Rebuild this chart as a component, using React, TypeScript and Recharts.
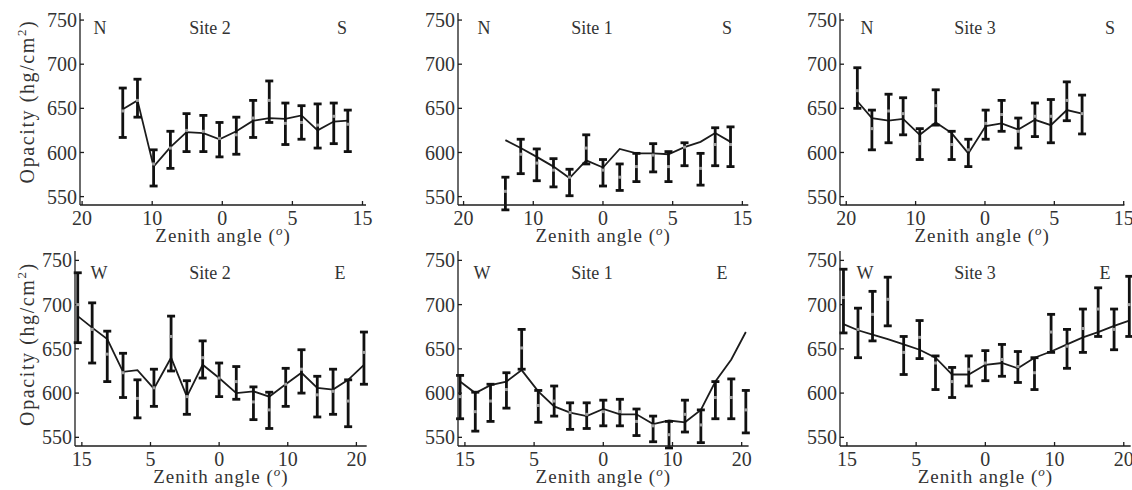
import React from "react";
import { ComposedChart, ErrorBar, Line, XAxis, YAxis } from "recharts";

const yTicks = [550, 600, 650, 700, 750];
const xTicks = [-20, -10, 0, 10, 20];
const nsTickLabels = ["20", "10", "0", "5", "15"];
const weTickLabels = ["15", "5", "0", "10", "20"];

// top row: north-south scans
const ns2Angle = [-14.2, -12.1, -9.8, -7.4, -5.1, -2.7, -0.4, 2.0, 4.4, 6.7, 9.0, 11.3, 13.6, 15.9, 17.9];
const ns2Obs = [647, 659, 587, 605, 625, 624, 616, 620, 639, 659, 633, 634, 631, 641, 632];
const ns2Low = [617, 640, 562, 582, 601, 601, 595, 598, 617, 634, 609, 615, 605, 610, 601];
const ns2High = [673, 683, 603, 624, 644, 642, 634, 640, 659, 681, 656, 653, 655, 656, 648];
const ns2Model = [649, 659, 584, 606, 623, 622, 615, 624, 636, 639, 638, 642, 625, 635, 636];

const ns1Angle = [-14.0, -11.8, -9.5, -7.1, -4.8, -2.4, 0, 2.4, 4.8, 7.2, 9.4, 11.7, 14.0, 16.1, 18.3];
const ns1Obs = [556, 598, 588, 580, 572, 605, 580, 572, 584, 597, 584, 606, 582, 609, 609];
const ns1Low = [535, 576, 568, 561, 551, 587, 562, 557, 567, 578, 567, 585, 563, 585, 584];
const ns1High = [572, 615, 604, 593, 581, 620, 592, 587, 599, 610, 601, 611, 599, 628, 629];
const ns1Model = [614, 605, 595, 584, 571, 591, 583, 604, 599, 599, 598, 606, 612, 622, 612];

const ns3Angle = [-18.4, -16.3, -13.9, -11.8, -9.4, -7.1, -4.8, -2.4, 0.1, 2.4, 4.8, 7.2, 9.5, 11.8, 14.0];
const ns3Obs = [670, 627, 647, 644, 610, 653, 609, 603, 633, 643, 624, 641, 641, 659, 644];
const ns3Low = [650, 603, 611, 620, 592, 631, 592, 584, 615, 624, 605, 618, 611, 636, 621];
const ns3High = [696, 648, 666, 662, 627, 671, 624, 615, 648, 659, 639, 656, 660, 680, 665];
const ns3Model = [658, 639, 636, 638, 620, 634, 622, 599, 630, 633, 626, 637, 631, 648, 644];

// bottom row: west-east scans
const we2Angle = [-20.6, -18.5, -16.3, -14.0, -11.9, -9.5, -7.0, -4.7, -2.4, 0, 2.5, 5.0, 7.3, 9.7, 12.0, 14.3, 16.6, 18.8, 21.1];
const we2Obs = [700, 672, 644, 623, 594, 606, 664, 596, 640, 617, 613, 590, 581, 610, 627, 598, 602, 591, 646];
const we2Low = [657, 634, 613, 595, 572, 585, 625, 576, 617, 596, 593, 570, 560, 585, 600, 573, 576, 562, 610];
const we2High = [736, 702, 670, 645, 615, 627, 687, 614, 659, 634, 630, 607, 601, 628, 649, 619, 627, 615, 669];
const we2Model = [687, 674, 661, 624, 626, 605, 640, 596, 632, 617, 600, 602, 596, 610, 623, 606, 604, 615, 632];

const we1Angle = [-20.7, -18.5, -16.3, -14.0, -11.8, -9.4, -7.1, -4.8, -2.4, 0, 2.4, 4.8, 7.2, 9.5, 11.8, 14.1, 16.2, 18.5, 20.6];
const we1Obs = [596, 579, 591, 604, 651, 586, 591, 578, 576, 579, 579, 568, 563, 553, 576, 564, 595, 595, 581];
const we1Low = [571, 557, 568, 583, 627, 567, 574, 559, 560, 563, 563, 552, 545, 538, 556, 544, 571, 571, 555];
const we1High = [620, 601, 610, 623, 672, 603, 608, 589, 589, 592, 593, 582, 574, 568, 592, 581, 613, 616, 603];
const we1Model = [613, 600, 609, 613, 626, 602, 585, 578, 574, 582, 576, 576, 565, 569, 567, 581, 613, 638, 669];

const we3Angle = [-20.5, -18.4, -16.3, -14.1, -11.8, -9.5, -7.2, -4.8, -2.4, 0, 2.4, 4.7, 7.1, 9.5, 11.8, 14.1, 16.3, 18.6, 20.8];
const we3Obs = [708, 672, 689, 706, 646, 663, 634, 613, 627, 634, 638, 630, 623, 669, 653, 673, 695, 672, 700];
const we3Low = [668, 640, 659, 676, 621, 639, 604, 595, 608, 614, 619, 612, 604, 646, 628, 646, 664, 649, 664];
const we3High = [740, 696, 715, 731, 664, 682, 642, 629, 642, 648, 655, 647, 640, 689, 672, 695, 719, 695, 732];
const we3Model = [678, 671, 666, 661, 655, 649, 640, 621, 621, 632, 634, 628, 640, 647, 655, 663, 669, 676, 682];

const FONT = '"Liberation Serif", "Times New Roman", serif';
const INK = "#1c1c1c";
const TICK_SIZE = 20;

function rows(x: number[], obs: number[], lo: number[], hi: number[], model: number[]) {
  return x.map((v, i) => ({
    x: v,
    obs: obs[i],
    bar: [obs[i] - lo[i], hi[i] - obs[i]],
    model: model[i],
  }));
}

const Marker = (p: any) => {
  if (p.cx == null || p.cy == null) return <g key={p.index} />;
  return <rect key={p.index} x={p.cx - 1.5} y={p.cy - 1.5} width={3} height={3} fill="#a0a0a0" />;
};

type PanelProps = {
  data: any[];
  left: number;
  top: number;
  w: number;
  h: number;
  xDomain: [number, number];
  yDomain: [number, number];
  tickLabels: string[];
  dirs: [string, string];
  site: string;
  ann: { lx: number; sx: number; rx: number; cy: number };
  titleDy: number;
  yTitle?: { x: number; y: number };
};

function Panel({ data, left, top, w, h, xDomain, yDomain, tickLabels, dirs, site, ann, titleDy, yTitle }: PanelProps) {
  const cw = w + 70;
  const ch = h + 54;
  const txt = { fill: "#333", fontFamily: FONT };
  return (
    <div style={{ position: "absolute", left: left - 60, top: top - 10, width: cw, height: ch }}>
      <ComposedChart width={cw} height={ch} data={data} margin={{ top: 10, right: 10, bottom: 0, left: 0 }}>
        <XAxis
          xAxisId="b"
          dataKey="x"
          type="number"
          domain={xDomain}
          ticks={xTicks}
          interval={0}
          allowDataOverflow
          height={44}
          tickSize={-4}
          tickMargin={10}
          fontSize={TICK_SIZE}
          fontFamily={FONT}
          tickFormatter={(v) => tickLabels[xTicks.indexOf(v)]}
          axisLine={{ stroke: INK, strokeWidth: 1.3 }}
          tickLine={{ stroke: INK, strokeWidth: 1.3 }}
          tick={{ ...txt, fontSize: TICK_SIZE }}
        />
        <XAxis
          xAxisId="t"
          orientation="top"
          type="number"
          domain={xDomain}
          ticks={xTicks}
          interval={0}
          allowDataOverflow
          height={0}
          tickSize={-4}
          tick={false}
          axisLine={{ stroke: INK, strokeWidth: 1.3 }}
          tickLine={{ stroke: INK, strokeWidth: 1.3 }}
        />
        <YAxis
          yAxisId="l"
          type="number"
          domain={yDomain}
          ticks={yTicks}
          interval={0}
          allowDataOverflow
          width={60}
          tickSize={-4}
          tickMargin={7}
          fontSize={TICK_SIZE}
          fontFamily={FONT}
          axisLine={{ stroke: INK, strokeWidth: 1.3 }}
          tickLine={{ stroke: INK, strokeWidth: 1.3 }}
          tick={{ ...txt, fontSize: TICK_SIZE }}
        />
        <YAxis
          yAxisId="r"
          orientation="right"
          type="number"
          domain={yDomain}
          ticks={yTicks}
          interval={0}
          allowDataOverflow
          width={0}
          tickSize={-4}
          tick={false}
          axisLine={{ stroke: INK, strokeWidth: 1.3 }}
          tickLine={{ stroke: INK, strokeWidth: 1.3 }}
        />
        <Line
          xAxisId="b"
          yAxisId="l"
          dataKey="model"
          stroke={INK}
          strokeWidth={1.8}
          dot={false}
          isAnimationActive={false}
        />
        <Line
          xAxisId="b"
          yAxisId="l"
          dataKey="obs"
          stroke="none"
          strokeWidth={0}
          dot={Marker}
          activeDot={false}
          isAnimationActive={false}
        >
          <ErrorBar dataKey="bar" direction="y" width={4} stroke="#111" strokeWidth={2.8} />
        </Line>
      </ComposedChart>
      <svg
        width={cw}
        height={ch}
        style={{ position: "absolute", left: 0, top: 0, pointerEvents: "none", overflow: "visible" }}
      >
        <g {...txt} fontSize={18} textAnchor="middle" dominantBaseline="central">
          <text x={60 + ann.lx} y={10 + ann.cy}>{dirs[0]}</text>
          <text x={60 + ann.sx} y={10 + ann.cy}>{site}</text>
          <text x={60 + ann.rx} y={10 + ann.cy}>{dirs[1]}</text>
        </g>
        <text {...txt} x={60 + w / 2} y={10 + h + titleDy} fontSize={19} textAnchor="middle" letterSpacing={1}>
          Zenith angle (
          <tspan fontStyle="italic" fontSize={13} dy={-7}>o</tspan>
          <tspan dy={7}>)</tspan>
        </text>
        {yTitle && (
          <text
            {...txt}
            x={yTitle.x}
            y={yTitle.y}
            fontSize={20}
            textAnchor="middle"
            letterSpacing={1.6}
            transform={`rotate(-90 ${yTitle.x} ${yTitle.y})`}
          >
            Opacity (hg/cm
            <tspan fontSize={13} dy={-8}>2</tspan>
            <tspan dy={8}>)</tspan>
          </text>
        )}
      </svg>
    </div>
  );
}

export default function App() {
  return (
    <div style={{ position: "relative", width: 1132, height: 490, background: "#fff", overflow: "hidden" }}>
      <style>{`body{margin:0}`}</style>
      <Panel
        data={rows(ns2Angle, ns2Obs, ns2Low, ns2High, ns2Model)}
        left={80} top={13} w={286} h={192}
        xDomain={[-20.3, 20.5]} yDomain={[540.5, 758]}
        tickLabels={nsTickLabels} dirs={["N", "S"]} site="Site 2"
        ann={{ lx: 20, sx: 130, rx: 262, cy: 14.5 }} titleDy={37}
        yTitle={{ x: 14, y: 98.5 }}
      />
      <Panel
        data={rows(ns1Angle, ns1Obs, ns1Low, ns1High, ns1Model)}
        left={457.7} top={13} w={290.3} h={192}
        xDomain={[-20.8, 20.85]} yDomain={[540.5, 758]}
        tickLabels={nsTickLabels} dirs={["N", "S"]} site="Site 1"
        ann={{ lx: 26, sx: 134, rx: 269, cy: 14.5 }} titleDy={37}
      />
      <Panel
        data={rows(ns3Angle, ns3Obs, ns3Low, ns3High, ns3Model)}
        left={840.3} top={13} w={284.4} h={192}
        xDomain={[-20.9, 20.1]} yDomain={[540.5, 758]}
        tickLabels={nsTickLabels} dirs={["N", "S"]} site="Site 3"
        ann={{ lx: 27, sx: 135, rx: 270, cy: 14.5 }} titleDy={37}
      />
      <Panel
        data={rows(we2Angle, we2Obs, we2Low, we2High, we2Model)}
        left={75} top={251} w={291.7} h={195}
        xDomain={[-21, 21.5]} yDomain={[540.2, 760.6]}
        tickLabels={weTickLabels} dirs={["W", "E"]} site="Site 2"
        ann={{ lx: 24, sx: 135, rx: 265, cy: 21.5 }} titleDy={37}
        yTitle={{ x: 19, y: 103 }}
      />
      <Panel
        data={rows(we1Angle, we1Obs, we1Low, we1High, we1Model)}
        left={457.7} top={251} w={290.6} h={195}
        xDomain={[-21, 21]} yDomain={[540.2, 760.6]}
        tickLabels={weTickLabels} dirs={["W", "E"]} site="Site 1"
        ann={{ lx: 24, sx: 134, rx: 264, cy: 21.5 }} titleDy={37}
      />
      <Panel
        data={rows(we3Angle, we3Obs, we3Low, we3High, we3Model)}
        left={840.3} top={251} w={290.7} h={195}
        xDomain={[-21, 21]} yDomain={[540.2, 760.6]}
        tickLabels={weTickLabels} dirs={["W", "E"]} site="Site 3"
        ann={{ lx: 25, sx: 135, rx: 265, cy: 21.5 }} titleDy={37}
      />
    </div>
  );
}
